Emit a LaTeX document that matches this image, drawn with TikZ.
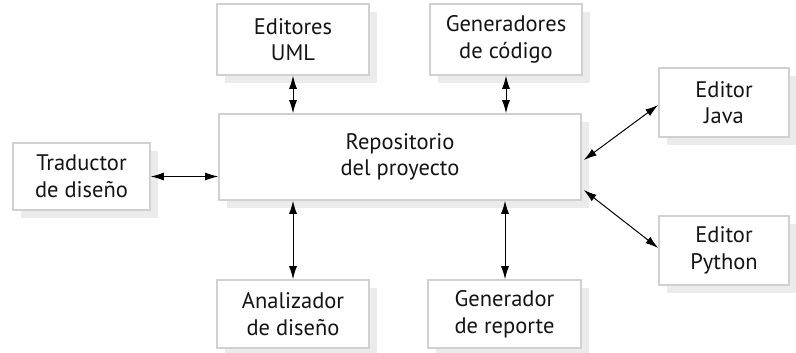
\documentclass[tikz,border=0pt]{standalone}
\usepackage{fontspec}
\setmainfont{PT Sans}
\usetikzlibrary{arrows.meta,shadows,calc}
\definecolor{boxline}{HTML}{D0D0D0}
\definecolor{shadowc}{HTML}{EBEBEB}
\definecolor{txt}{HTML}{141414}
\tikzset{
  box/.style={draw=boxline, line width=1.6pt, fill=white, align=center,
    text=txt, font=\fontsize{22.5}{26.5}\selectfont, inner sep=0pt,
    general shadow={fill=shadowc, shadow xshift=8pt, shadow yshift=-8pt}},
  link/.style={line width=1pt, draw=black, arrows={Latex[length=13pt,width=8pt]-Latex[length=13pt,width=8pt]}}}
\begin{document}
\begin{tikzpicture}[x=1pt,y=-1pt]
\useasboundingbox (0,0) rectangle (796,353);
\node[box, minimum width=152pt, minimum height=71pt] (uml) at (293,39.5) {Editores\\UML};
\node[box, minimum width=152pt, minimum height=71pt] (gcod) at (506,39.5) {Generadores\\de código};
\node[box, minimum width=130pt, minimum height=69pt] (java) at (724,102.5) {Editor\\Java};
\node[box, minimum width=362pt, minimum height=86pt] (repo) at (400,157) {Repositorio\\del proyecto};
\node[box, minimum width=137pt, minimum height=67pt] (trad) at (81.5,176.5) {Traductor\\de diseño};
\node[box, minimum width=130pt, minimum height=69pt] (py) at (724,250.5) {Editor\\Python};
\node[box, minimum width=152pt, minimum height=68pt] (anal) at (293,314) {Analizador\\de diseño};
\node[box, minimum width=153pt, minimum height=68pt] (grep) at (504.5,314) {Generador\\de reporte};
\draw[link] (uml.south) -- (uml.south |- repo.north);
\draw[link] (gcod.south) -- (gcod.south |- repo.north);
\draw[link] (anal.north) -- (anal.north |- repo.south);
\draw[link] ($(grep.north)+(0.5,0)$) -- ($(grep.north |- repo.south)+(0.5,0)$);
\draw[link] (trad.east) -- (trad.east -| repo.west);
\coordinate (rj) at ($(repo.east)+(2,3)$);
\coordinate (jw) at ($(java.west)+(0,2.5)$);
\draw[link] (rj) -- (jw);
\coordinate (rp) at ($(repo.east)+(2,33)$);
\coordinate (pw) at ($(py.west)+(0,-2.5)$);
\draw[link] (rp) -- (pw);
\end{tikzpicture}
\end{document}
